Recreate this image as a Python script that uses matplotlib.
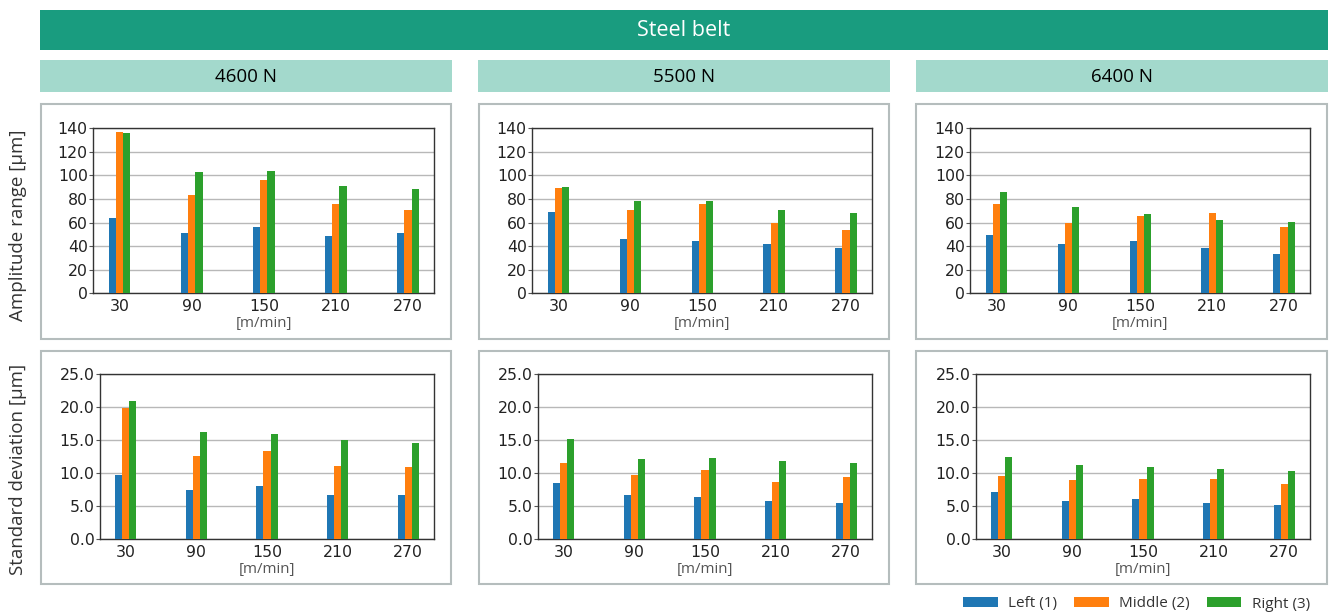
import numpy as np
import matplotlib
matplotlib.use("Agg")
import matplotlib.pyplot as plt
from matplotlib.patches import Rectangle
from matplotlib.ticker import FormatStrFormatter

# ---- data -------------------------------------------------------------
speeds = ["30", "90", "150", "210", "270"]
loads = ["4600 N", "5500 N", "6400 N"]
series = ["Left (1)", "Middle (2)", "Right (3)"]

# amplitude range [µm] per load: left, middle, right
amp_4600_left = [63.6, 51.2, 56.3, 48.6, 51.2]
amp_4600_mid = [136.6, 83.4, 96.2, 75.8, 70.7]
amp_4600_right = [135.8, 102.9, 103.8, 91.1, 88.5]

amp_5500_left = [68.7, 45.7, 44.0, 41.5, 38.1]
amp_5500_mid = [89.2, 70.4, 75.6, 59.4, 53.4]
amp_5500_right = [90.0, 78.1, 78.1, 70.4, 67.9]

amp_6400_left = [49.1, 41.5, 44.0, 38.1, 33.0]
amp_6400_mid = [75.5, 59.4, 65.3, 67.9, 56.0]
amp_6400_right = [85.8, 73.0, 67.0, 61.9, 60.2]

# standard deviation [µm] per load: left, middle, right
sd_4600_left = [9.7, 7.4, 8.0, 6.7, 6.7]
sd_4600_mid = [19.9, 12.6, 13.3, 11.1, 10.9]
sd_4600_right = [20.9, 16.2, 15.9, 15.0, 14.5]

sd_5500_left = [8.5, 6.7, 6.4, 5.8, 5.5]
sd_5500_mid = [11.5, 9.7, 10.45, 8.6, 9.4]
sd_5500_right = [15.15, 12.1, 12.3, 11.8, 11.5]

sd_6400_left = [7.1, 5.8, 6.1, 5.5, 5.2]
sd_6400_mid = [9.5, 8.9, 9.1, 9.1, 8.3]
sd_6400_right = [12.4, 11.2, 10.9, 10.6, 10.3]

amp_rows = [
    [amp_4600_left, amp_4600_mid, amp_4600_right],
    [amp_5500_left, amp_5500_mid, amp_5500_right],
    [amp_6400_left, amp_6400_mid, amp_6400_right],
]
sd_rows = [
    [sd_4600_left, sd_4600_mid, sd_4600_right],
    [sd_5500_left, sd_5500_mid, sd_5500_right],
    [sd_6400_left, sd_6400_mid, sd_6400_right],
]

colors = ["#1f77b4", "#ff7f0e", "#2ca02c"]
HEADER = "#199c7f"
SUBHEADER = "#a3d9cc"
BOX_EDGE = "#b5bdbd"
UI_FONT = ["Open Sans", "DejaVu Sans"]

W, H = 1330, 615
fig = plt.figure(figsize=(W / 100, H / 100), dpi=100)


def fx(x):
    return x / W


def fy(y):
    return 1 - y / H


def frect(x0, y0, x1, y1, **kw):
    r = Rectangle((fx(x0), fy(y1)), fx(x1) - fx(x0), fy(y0) - fy(y1),
                  transform=fig.transFigure, zorder=-5, **kw)
    fig.add_artist(r)
    return r


# title band
frect(40, 10, 1328, 50, facecolor=HEADER, edgecolor="none")
fig.text(fx(684), fy(30), "Steel belt", color="white", fontsize=15.5,
         family=UI_FONT, ha="center", va="center")

col_x = [(40, 452), (478, 890), (916, 1328)]
for (x0, x1), load in zip(col_x, loads):
    frect(x0, 60, x1, 92, facecolor=SUBHEADER, edgecolor="none")
    fig.text(fx((x0 + x1) / 2), fy(76.5), load, color="black", fontsize=13.5,
             family=UI_FONT, ha="center", va="center")

# panel frames
row_y = [(104, 339), (351, 584)]
for (x0, x1) in col_x:
    for (y0, y1) in row_y:
        frect(x0 + 0.5, y0, x1 - 1.5, y1, facecolor="white",
              edgecolor=BOX_EDGE, linewidth=1.5)

# axes extents in pixels: (left, right)
top_axes = [(93.3, 434.3), (532.3, 872.3), (970.3, 1310.3)]
bot_axes = [(100, 434), (538, 872), (976, 1310)]

x = np.arange(len(speeds))
width = 0.1
handles = None


def draw_panel(ext, ytop, ybot, data, ymax, step, fmt):
    global handles
    l, r = ext
    ax = fig.add_axes([fx(l), fy(ybot), fx(r) - fx(l), fy(ytop) - fy(ybot)])
    bars = []
    for i, vals in enumerate(data):
        b = ax.bar(x + (i - 1) * width, vals, width, color=colors[i],
                   label=series[i], zorder=3)
        bars.append(b)
    handles = bars
    ax.set_ylim(0, ymax)
    ax.set_yticks(np.arange(0, ymax + step / 2, step))
    if fmt:
        ax.yaxis.set_major_formatter(FormatStrFormatter(fmt))
    ax.set_xticks(x)
    ax.set_xticklabels(speeds)
    ax.tick_params(axis="both", labelsize=11.3, colors="#222222")
    ax.tick_params(axis="x", length=0, pad=4)
    ax.tick_params(axis="y", length=3, pad=1, color="#555555")
    ax.grid(axis="y", color="#b8b8b8", linewidth=1.0, zorder=0)
    ax.set_axisbelow(True)
    for s in ax.spines.values():
        s.set_color("#333333")
        s.set_linewidth(1.0)
    ax.set_xlabel("[m/min]", fontsize=10.8, color="#555555", family=UI_FONT,
                  labelpad=1.5)
    return ax


for c in range(3):
    draw_panel(top_axes[c], 128.3, 293.3, amp_rows[c], 140, 20, None)
    draw_panel(bot_axes[c], 374, 539, sd_rows[c], 25, 5, "%.1f")

fig.text(fx(18), fy(225), "Amplitude range [µm]", rotation=90, fontsize=13.5,
         family=UI_FONT, color="#333333", ha="center", va="center")
fig.text(fx(18), fy(469), "Standard deviation [µm]", rotation=90, fontsize=13.5,
         family=UI_FONT, color="#333333", ha="center", va="center")

fs = 11
fig.legend(handles, series, loc="center right",
           bbox_to_anchor=(fx(1310), fy(604)), ncol=3, frameon=False,
           prop={"family": UI_FONT, "size": fs}, labelcolor="#333333",
           handlelength=2.25, handleheight=0.66, handletextpad=0.7,
           columnspacing=1.1, borderpad=0, borderaxespad=0)

fig.savefig("out.png", dpi=100)
